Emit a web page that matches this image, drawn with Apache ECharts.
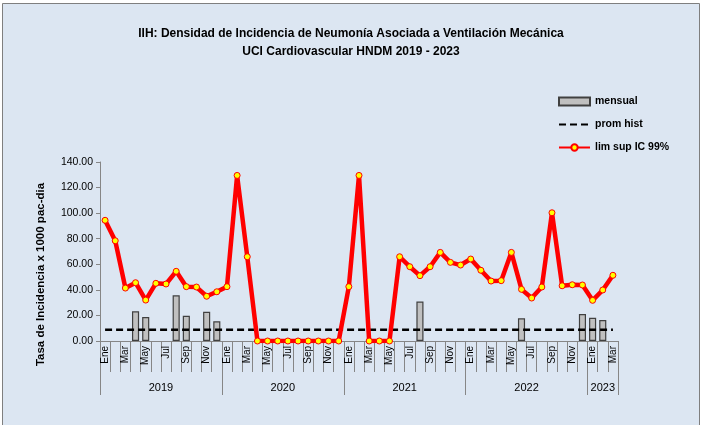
<!DOCTYPE html>
<html>
<head>
<meta charset="utf-8">
<script src="https://cdn.jsdelivr.net/npm/echarts@6/dist/echarts.min.js"></script>
<style>
html,body{margin:0;padding:0;background:#fff;}
#c{width:702px;height:425px;}
</style>
</head>
<body>
<div id="c"></div>
<script>
// ---- data ----
var monthNames = ['Ene','Feb','Mar','Abr','May','Jun','Jul','Ago','Sep','Oct','Nov','Dic'];
var years = ['2019','2020','2021','2022','2023'];
var monthsPerYear = [12, 12, 12, 12, 3];
var yTicks = [0, 20, 40, 60, 80, 100, 120, 140];

// mensual (bars)
var mensual = [
  null, null, null, 23.2, 18.8, null, null, 35.7, 19.8, null, 22.9, 15.4,
  null, null, null, null, null, null, null, null, null, null, null, null,
  null, null, null, null, null, null, null, 30.8, null, null, null, null,
  null, null, null, null, null, 17.7, null, null, null, null, null, 21.1,
  18.2, 16.4, null
];
// lim sup IC 99%
var limSup = [
  94.4, 78.4, 41.4, 45.6, 32.0, 45.1, 44.6, 54.5, 42.5, 42.2, 35.0, 38.5,
  42.5, 129.5, 65.9, 0, 0, 0, 0, 0, 0, 0, 0, 0,
  42.5, 129.5, 0, 0, 0, 65.9, 58.1, 51.1, 58.1, 69.3, 61.5, 59.4,
  64.1, 55.3, 46.9, 47.2, 69.3, 40.4, 33.6, 42.2, 100.3, 43.2, 44.0, 43.8,
  31.8, 39.9, 51.4
];
// prom hist (constant historical mean)
var promHistValue = 8.8;

// ---- derived ----
var categories = [];
var yearBounds = [0];
var yearMids = [];
years.forEach(function (y, i) {
  var start = yearBounds[yearBounds.length - 1];
  for (var m = 0; m < monthsPerYear[i]; m++) categories.push(monthNames[m] + ' ' + y);
  yearBounds.push(start + monthsPerYear[i]);
  yearMids.push(start + monthsPerYear[i] / 2);
});
var promHist = categories.map(function () { return promHistValue; });
var total = categories.length;

var FONT = 'Liberation Sans';
var chart = echarts.init(document.getElementById('c'), null, {renderer: 'canvas'});
chart.setOption({
  backgroundColor: '#ffffff',
  animation: false,
  graphic: [{
    type: 'rect', z: -10, silent: true,
    shape: {x: 2.5, y: 3.5, width: 697, height: 430},
    style: {fill: '#dce6f2', stroke: '#7f7f7f', lineWidth: 1}
  }],
  title: {
    text: 'IIH: Densidad de Incidencia de Neumonía Asociada a Ventilación Mecánica\nUCI Cardiovascular HNDM 2019 - 2023',
    left: 'center', top: 20,
    textStyle: {fontFamily: FONT, fontWeight: 'bold', fontSize: 12, lineHeight: 18, color: '#000'}
  },
  legend: {
    orient: 'vertical', left: 553, top: 91,
    itemWidth: 31, itemHeight: 8, itemGap: 12,
    textStyle: {fontFamily: FONT, fontWeight: 'bold', fontSize: 10.5, color: '#000'},
    data: [
      {name: 'mensual', icon: 'rect'},
      {name: 'prom hist', itemStyle: {opacity: 0}},
      {name: 'lim sup IC 99%'}
    ]
  },
  grid: {left: 100, right: 84, top: 162, bottom: 84},
  xAxis: [{
    type: 'category', data: categories, boundaryGap: true,
    axisLine: {show: true, lineStyle: {color: '#868686', width: 1}},
    axisTick: {show: true, interval: 0, length: 31, lineStyle: {color: '#868686'}},
    axisLabel: {
      interval: 1, rotate: 90, margin: 5,
      fontFamily: FONT, fontSize: 10, color: '#000',
      formatter: function (v) { return v.split(' ')[0]; }
    },
    splitLine: {show: false}
  }, {
    type: 'value', min: 0, max: total, position: 'bottom',
    axisLine: {show: false},
    axisTick: {show: true, length: 54, customValues: yearBounds, lineStyle: {color: '#868686'}},
    axisLabel: {
      customValues: yearMids, margin: 41,
      fontFamily: FONT, fontSize: 11, color: '#000',
      formatter: function (v) {
        var i = yearMids.indexOf(v);
        return i >= 0 ? years[i] : '';
      }
    },
    splitLine: {show: false}
  }],
  yAxis: {
    type: 'value', min: yTicks[0], max: yTicks[yTicks.length - 1], interval: yTicks[1] - yTicks[0],
    name: 'Tasa de Incidencia x 1000 pac-dia', nameLocation: 'middle', nameGap: 53,
    nameTextStyle: {fontFamily: FONT, fontWeight: 'bold', fontSize: 11.5, color: '#000', padding: [0, 46, 0, 0]},
    axisLine: {show: true, lineStyle: {color: '#868686'}},
    axisTick: {show: true, length: 4, lineStyle: {color: '#868686'}},
    axisLabel: {
      fontFamily: FONT, fontSize: 10.5, color: '#000', margin: 7,
      formatter: function (v) { return v.toFixed(2); }
    },
    splitLine: {show: false}
  },
  series: [{
    name: 'mensual', type: 'bar', data: mensual, xAxisIndex: 0,
    barWidth: '70%', z: 2,
    itemStyle: {color: '#c0c0c0', borderColor: '#404040', borderWidth: 1.2}
  }, {
    name: 'prom hist', type: 'line', data: promHist, xAxisIndex: 0,
    symbol: 'none', z: 3,
    lineStyle: {color: '#000', width: 2.5, type: [7, 4]},
    itemStyle: {color: '#000'}
  }, {
    name: 'lim sup IC 99%', type: 'line', data: limSup, xAxisIndex: 0,
    symbol: 'circle', symbolSize: 6, z: 4,
    lineStyle: {color: '#ff0000', width: 4.5},
    itemStyle: {color: '#ffff00', borderColor: '#ff0000', borderWidth: 1}
  }]
});
</script>
</body>
</html>
